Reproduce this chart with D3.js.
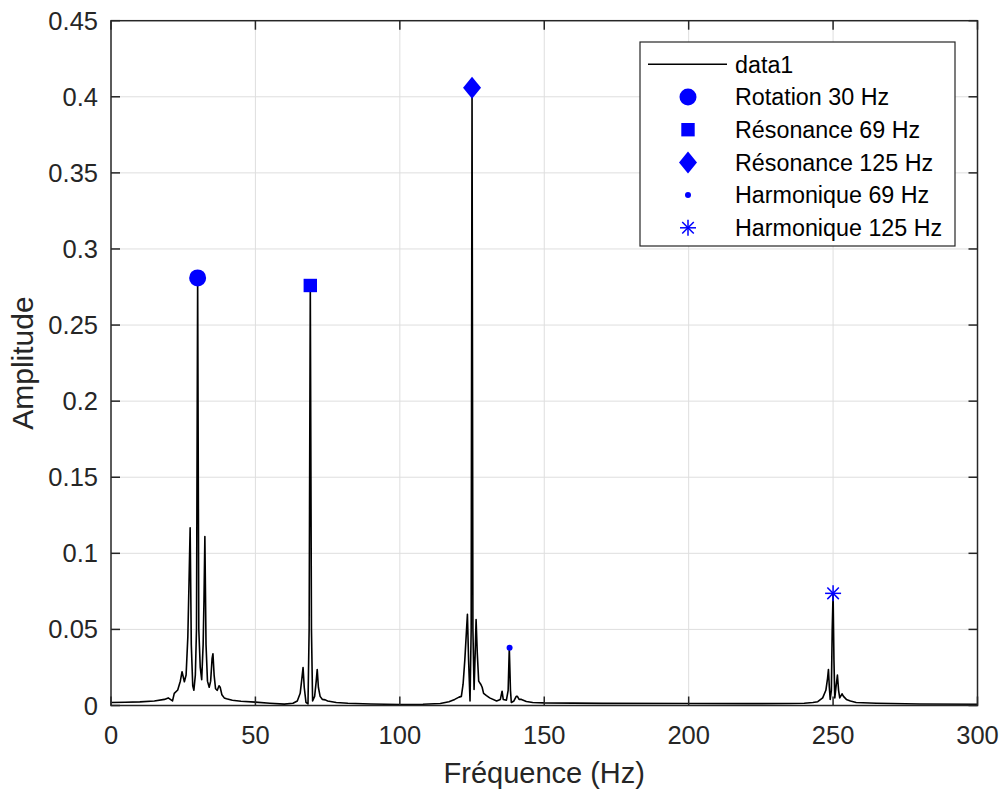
<!DOCTYPE html>
<html>
<head>
<meta charset="utf-8">
<script src="https://cdn.jsdelivr.net/npm/d3@7"></script>
<style>
  html, body { margin: 0; padding: 0; background: #fff; }
  svg { display: block; font-family: "Liberation Sans", Arial, Helvetica, sans-serif; }
</style>
</head>
<body>
<svg id="chart" width="1000" height="789"></svg>
<script>
// spectrum (Hz, amplitude)
const freq = [0, 5, 10, 15, 18.5, 19.8, 21.3, 21.9, 23.1, 24.0, 24.6, 25.4, 26.0, 26.6, 27.0, 27.4, 27.8, 28.3, 28.7, 29.2, 29.6, 30.0, 30.4, 30.9, 31.4, 31.9, 32.2, 32.5, 32.9, 33.4, 34.0, 34.5, 35.0, 35.3, 35.7, 36.2, 36.8, 37.4, 37.8, 38.4, 39.2, 40, 42, 45, 50, 55, 60, 63, 64.5, 65.5, 66.1, 66.5, 66.9, 67.5, 68.2, 68.6, 69.0, 69.4, 69.8, 70.5, 71.0, 71.4, 71.8, 72.4, 73.2, 74.2, 75, 78, 82, 90, 100, 108, 114, 117, 119, 120.5, 121.3, 121.9, 122.5, 123.1, 123.4, 123.8, 124.3, 124.7, 125.0, 125.3, 125.7, 126.1, 126.4, 126.8, 127.3, 128.0, 128.5, 129, 130, 131.1, 133.5, 134.8, 135.4, 135.8, 136.9, 137.5, 137.9, 138.3, 138.6, 139.5, 140.3, 140.7, 141.3, 142.1, 143.8, 146, 150, 170, 200, 220, 235, 240, 243, 244.7, 246.4, 247.5, 248.1, 248.4, 248.7, 249.0, 249.4, 249.7, 250.0, 250.3, 250.6, 251.0, 251.5, 251.9, 252.3, 253.1, 253.6, 254.6, 256, 258, 265, 280, 300];
const amp = [0.0020, 0.0021, 0.0024, 0.0030, 0.0040, 0.0050, 0.0030, 0.0080, 0.0102, 0.0160, 0.0222, 0.0156, 0.0200, 0.0450, 0.0800, 0.1168, 0.0400, 0.0130, 0.0100, 0.0200, 0.0500, 0.2810, 0.0500, 0.0250, 0.0170, 0.0400, 0.0700, 0.1110, 0.0400, 0.0160, 0.0120, 0.0160, 0.0310, 0.0340, 0.0200, 0.0110, 0.0100, 0.0130, 0.0120, 0.0070, 0.0050, 0.0045, 0.0035, 0.0028, 0.0022, 0.0015, 0.0009, 0.0015, 0.0030, 0.0080, 0.0180, 0.0250, 0.0120, 0.0020, 0.0010, 0.0500, 0.2760, 0.0500, 0.0030, 0.0060, 0.0150, 0.0237, 0.0120, 0.0060, 0.0040, 0.0037, 0.0030, 0.0020, 0.0015, 0.0010, 0.0007, 0.0008, 0.0013, 0.0025, 0.0040, 0.0055, 0.0060, 0.0140, 0.0300, 0.0500, 0.0600, 0.0300, 0.0030, 0.0500, 0.4060, 0.0500, 0.0105, 0.0350, 0.0565, 0.0350, 0.0160, 0.0140, 0.0120, 0.0080, 0.0065, 0.0050, 0.0030, 0.0040, 0.0094, 0.0040, 0.0035, 0.0100, 0.0380, 0.0100, 0.0020, 0.0030, 0.0060, 0.0060, 0.0040, 0.0040, 0.0026, 0.0020, 0.0017, 0.0014, 0.0013, 0.0012, 0.0013, 0.0015, 0.0020, 0.0025, 0.0050, 0.0100, 0.0180, 0.0237, 0.0120, 0.0040, 0.0100, 0.0500, 0.0737, 0.0300, 0.0050, 0.0120, 0.0200, 0.0100, 0.0050, 0.0077, 0.0060, 0.0040, 0.0030, 0.0020, 0.0015, 0.0010, 0.0008];

// marked peaks
const markNames = ["Rotation 30 Hz", "Résonance 69 Hz", "Résonance 125 Hz", "Harmonique 69 Hz", "Harmonique 125 Hz"];
const markFreq = [30, 69, 125, 138, 250];
const markAmp = [0.281, 0.276, 0.406, 0.038, 0.0737];
const markShape = ["circle", "square", "diamond", "dot", "star"];

const xTicks = [0, 50, 100, 150, 200, 250, 300];
const yTicks = [0, 0.05, 0.1, 0.15, 0.2, 0.25, 0.3, 0.35, 0.4, 0.45];
const yTickLabels = ["0", "0.05", "0.1", "0.15", "0.2", "0.25", "0.3", "0.35", "0.4", "0.45"];

const pLeft = 111, pRight = 977.5, pTop = 20.7, pBottom = 705.5;
const axisColor = "#262626";
const blue = "#0000ff";

const svg = d3.select("#chart");
const x = d3.scaleLinear().domain([0, 300]).range([pLeft, pRight]);
const y = d3.scaleLinear().domain([0, 0.45]).range([pBottom, pTop]);

// grid
const grid = svg.append("g").attr("stroke", "#dedede").attr("stroke-width", 1);
grid.selectAll(".gx").data(xTicks.slice(1, -1)).enter().append("line")
  .attr("x1", d => x(d)).attr("x2", d => x(d)).attr("y1", pTop).attr("y2", pBottom);
grid.selectAll(".gy").data(yTicks.slice(1, -1)).enter().append("line")
  .attr("y1", d => y(d)).attr("y2", d => y(d)).attr("x1", pLeft).attr("x2", pRight);

// spectrum
const pts = freq.map((f, i) => [f, amp[i]]);
svg.append("path")
  .datum(pts)
  .attr("fill", "none")
  .attr("stroke", "#000")
  .attr("stroke-width", 1.6)
  .attr("stroke-linejoin", "round")
  .attr("d", d3.line().x(d => x(d[0])).y(d => y(d[1])));

// marker drawing
function drawMarker (g, shape, cx, cy) {
  if (shape === "circle") {
    g.append("circle").attr("cx", cx).attr("cy", cy).attr("r", 8.5).attr("fill", blue);
  } else if (shape === "square") {
    g.append("rect").attr("x", cx - 6.7).attr("y", cy - 6.7).attr("width", 13.4).attr("height", 13.4).attr("fill", blue);
  } else if (shape === "diamond") {
    g.append("path").attr("d", `M${cx},${cy - 11}L${cx + 9},${cy}L${cx},${cy + 11}L${cx - 9},${cy}Z`).attr("fill", blue);
  } else if (shape === "dot") {
    g.append("circle").attr("cx", cx).attr("cy", cy).attr("r", 3).attr("fill", blue);
  } else if (shape === "star") {
    const r = 8;
    const s = g.append("g").attr("stroke", blue).attr("stroke-width", 1.5);
    s.append("line").attr("x1", cx - r).attr("x2", cx + r).attr("y1", cy).attr("y2", cy);
    s.append("line").attr("x1", cx).attr("x2", cx).attr("y1", cy - r).attr("y2", cy + r);
    const k = r * 0.72;
    s.append("line").attr("x1", cx - k).attr("x2", cx + k).attr("y1", cy - k).attr("y2", cy + k);
    s.append("line").attr("x1", cx - k).attr("x2", cx + k).attr("y1", cy + k).attr("y2", cy - k);
  }
}

const marks = svg.append("g");
markFreq.forEach((f, i) => drawMarker(marks, markShape[i], x(f), y(markAmp[i])));

// axes box and ticks
const ax = svg.append("g").attr("stroke", axisColor).attr("stroke-width", 1.5);
ax.append("rect").attr("x", pLeft).attr("y", pTop).attr("width", pRight - pLeft).attr("height", pBottom - pTop).attr("fill", "none");
const tl = 9;
xTicks.forEach(t => {
  ax.append("line").attr("x1", x(t)).attr("x2", x(t)).attr("y1", pBottom).attr("y2", pBottom - tl);
  ax.append("line").attr("x1", x(t)).attr("x2", x(t)).attr("y1", pTop).attr("y2", pTop + tl);
});
yTicks.forEach(t => {
  ax.append("line").attr("y1", y(t)).attr("y2", y(t)).attr("x1", pLeft).attr("x2", pLeft + tl);
  ax.append("line").attr("y1", y(t)).attr("y2", y(t)).attr("x1", pRight).attr("x2", pRight - tl);
});

// tick labels
svg.append("g").selectAll("text").data(xTicks).enter().append("text")
  .attr("x", d => x(d)).attr("y", 743.5)
  .attr("text-anchor", "middle").attr("font-size", 25.5).attr("fill", axisColor)
  .text(d => d);
svg.append("g").selectAll("text").data(yTicks).enter().append("text")
  .attr("x", 98).attr("y", d => y(d) + 9)
  .attr("text-anchor", "end").attr("font-size", 25.5).attr("fill", axisColor)
  .text((d, i) => yTickLabels[i]);

// axis labels
svg.append("text").attr("x", (pLeft + pRight) / 2).attr("y", 783)
  .attr("text-anchor", "middle").attr("font-size", 29).attr("fill", axisColor)
  .text("Fréquence (Hz)");
svg.append("text").attr("transform", `translate(33,${(pTop + pBottom) / 2}) rotate(-90)`)
  .attr("text-anchor", "middle").attr("font-size", 30).attr("fill", axisColor)
  .text("Amplitude");

// legend
const lg = svg.append("g");
lg.append("rect").attr("x", 640).attr("y", 42).attr("width", 315).attr("height", 204)
  .attr("fill", "#fff").attr("stroke", axisColor).attr("stroke-width", 1.2);
const rowY = i => 64.3 + i * 32.7;
lg.append("line").attr("x1", 648).attr("x2", 727).attr("y1", rowY(0)).attr("y2", rowY(0))
  .attr("stroke", "#000").attr("stroke-width", 1.6);
lg.append("text").attr("x", 735).attr("y", rowY(0) + 8.3).attr("font-size", 23.3).attr("fill", "#000").text("data1");
markNames.forEach((n, i) => {
  drawMarker(lg, markShape[i], 688, rowY(i + 1));
  lg.append("text").attr("x", 735).attr("y", rowY(i + 1) + 8.3).attr("font-size", 23.3).attr("fill", "#000").text(n);
});
</script>
</body>
</html>
